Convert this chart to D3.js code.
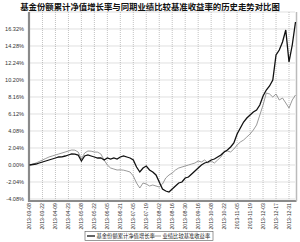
<!DOCTYPE html>
<html>
<head>
<meta charset="utf-8">
<script src="https://cdn.jsdelivr.net/npm/d3@7"></script>
<style>
  body { margin: 0; background: #fff; }
  text { font-family: "Liberation Sans", Arial, sans-serif; }
</style>
</head>
<body>
<div id="chart"></div>
<script>
// x axis tick labels (one every 4 points)
const dateLabels = [
  "2013-03-08", "2013-03-22", "2013-04-09", "2013-04-23", "2013-05-08",
  "2013-05-22", "2013-06-05", "2013-06-21", "2013-07-05", "2013-07-19",
  "2013-08-02", "2013-08-16", "2013-08-30", "2013-09-16", "2013-10-08",
  "2013-10-22", "2013-11-05", "2013-11-19", "2013-12-03", "2013-12-17",
  "2013-12-31"
];

const yTicks = [-4.08, -2.04, 0, 2.04, 4.08, 6.12, 8.16, 10.20, 12.24, 14.28, 16.32];

// 基金份额累计净值增长率 (%)
const fundValues = [
  0.00, 0.06, 0.12, 0.24, 0.36, 0.48, 0.60, 0.72, 0.84, 0.96,
  0.98, 1.08, 1.20, 1.32, 1.30, 1.20, 0.48, 1.08, 1.20, 1.08,
  0.96, 0.84, 0.86, 0.60, 0.84, 0.72, 0.84, 0.72, 0.96, 1.08,
  0.96, 0.84, 0.60, -0.24, -0.84, -0.36, -0.12, -0.60, -0.84, -1.20,
  -2.04, -2.88, -3.12, -3.24, -2.88, -2.52, -2.16, -2.04, -1.56, -1.44,
  -1.08, -0.72, -0.36, 0.00, 0.24, 0.36, 0.60, 0.72, 0.96, 1.20,
  1.56, 1.80, 2.16, 2.64, 3.72, 4.44, 5.16, 5.64, 6.00, 6.36,
  6.60, 7.20, 8.28, 9.00, 9.48, 10.20, 13.20, 13.80, 14.76, 16.20,
  12.36, 14.40, 17.16
];

// 业绩比较基准收益率 (%)
const benchValues = [
  0.00, 0.12, 0.24, 0.42, 0.60, 0.78, 0.96, 1.08, 1.20, 1.32,
  1.44, 1.56, 1.68, 1.80, 1.78, 1.56, 0.72, 1.44, 1.68, 1.66,
  1.56, 1.54, 1.32, 0.60, 0.00, -0.36, -0.48, -0.60, -0.58, -0.62,
  -0.72, -0.84, -1.32, -2.16, -2.76, -2.16, -2.28, -2.52, -2.40, -2.52,
  -2.64, -2.28, -1.56, -1.20, -0.96, -0.60, -0.36, -0.24, -0.12, 0.00,
  0.12, 0.24, 0.48, 0.36, 0.60, 0.24, 0.48, 0.24, 0.60, 0.96,
  1.56, 1.68, 1.56, 1.92, 2.40, 2.76, 3.00, 3.36, 3.72, 4.20,
  4.80, 6.00, 7.20, 8.64, 8.52, 8.16, 8.52, 7.80, 8.04, 7.44,
  6.84, 7.80, 8.40
];

const seriesNames = ["基金份额累计净值增长率", "业绩比较基准收益率"];

const width = 300;
const height = 242;

const svg = d3.select("#chart")
  .append("svg")
  .attr("width", width)
  .attr("height", height);

const x = d3.scaleLinear()
  .domain([0, fundValues.length - 1])
  .range([29.5, 295.5]);

const y = d3.scaleLinear()
  .domain([-4.32, 18.36])
  .range([201, 12]);

// title
svg.append("text")
  .attr("x", 150)
  .attr("y", 10)
  .attr("text-anchor", "middle")
  .style("font-family", "'Noto Sans CJK SC', sans-serif")
  .style("font-size", "8.4px")
  .style("font-weight", 700)
  .style("fill", "#111")
  .text("基金份额累计净值增长率与同期业绩比较基准收益率的历史走势对比图");

// horizontal grid (plus top edge)
svg.selectAll(".hgrid")
  .data(yTicks.concat([18.36]))
  .enter().append("line")
  .attr("class", "hgrid")
  .attr("x1", x.range()[0])
  .attr("x2", x.range()[1])
  .attr("y1", d => y(d))
  .attr("y2", d => y(d))
  .attr("stroke", "#999")
  .attr("stroke-width", 0.6)
  .attr("stroke-dasharray", "1,1");

// vertical grid at each date label
const tickIdx = dateLabels.map((d, i) => i * 4);

svg.selectAll(".vgrid")
  .data(tickIdx)
  .enter().append("line")
  .attr("class", "vgrid")
  .attr("x1", d => x(d))
  .attr("x2", d => x(d))
  .attr("y1", y(18.36))
  .attr("y2", y.range()[0])
  .attr("stroke", "#999")
  .attr("stroke-width", 0.6)
  .attr("stroke-dasharray", "1,1");

// y labels
svg.selectAll(".ylab")
  .data(yTicks)
  .enter().append("text")
  .attr("class", "ylab")
  .attr("x", 24)
  .attr("y", d => y(d) + 2)
  .attr("text-anchor", "end")
  .style("font-size", "5.6px")
  .style("fill", "#333")
  .text(d => d.toFixed(2) + "%");

// x labels, rotated
svg.selectAll(".xlab")
  .data(dateLabels)
  .enter().append("text")
  .attr("class", "xlab")
  .attr("transform", (d, i) => `translate(${x(i * 4) + 1.8}, 203) rotate(-90)`)
  .attr("text-anchor", "end")
  .style("font-size", "5.2px")
  .style("fill", "#333")
  .text(d => d);

// axes frame
svg.append("line")
  .attr("x1", x.range()[0] - 0.5).attr("x2", x.range()[0] - 0.5)
  .attr("y1", y(18.36)).attr("y2", y.range()[0] + 1)
  .attr("stroke", "#8a8a8a").attr("stroke-width", 2.2);
svg.append("line")
  .attr("x1", x.range()[0] - 1).attr("x2", x.range()[1] + 1)
  .attr("y1", y.range()[0]).attr("y2", y.range()[0])
  .attr("stroke", "#8a8a8a").attr("stroke-width", 1.8);
svg.append("line")
  .attr("x1", x.range()[1] + 1).attr("x2", x.range()[1] + 1)
  .attr("y1", y(18.36)).attr("y2", y.range()[0])
  .attr("stroke", "#bbb").attr("stroke-width", 1.5);

const line = d3.line()
  .x((d, i) => x(i))
  .y(d => y(d));

svg.append("path")
  .datum(benchValues)
  .attr("d", line)
  .attr("fill", "none")
  .attr("stroke", "#808080")
  .attr("stroke-width", 0.8);

svg.append("path")
  .datum(fundValues)
  .attr("d", line)
  .attr("fill", "none")
  .attr("stroke", "#111")
  .attr("stroke-width", 1.3);

// legend
const legend = svg.append("g")
  .attr("transform", "translate(85, 231.5)");

legend.append("rect")
  .attr("width", 128)
  .attr("height", 9)
  .attr("fill", "#fff")
  .attr("stroke", "#555")
  .attr("stroke-width", 0.6);

const legendItems = [
  { name: seriesNames[0], color: "#111", w: 1.3, x: 2 },
  { name: seriesNames[1], color: "#808080", w: 0.8, x: 68 }
];

legendItems.forEach(it => {
  legend.append("line")
    .attr("x1", it.x).attr("x2", it.x + 8)
    .attr("y1", 4.5).attr("y2", 4.5)
    .attr("stroke", it.color)
    .attr("stroke-width", it.w);
  legend.append("text")
    .attr("x", it.x + 9.5)
    .attr("y", 6.4)
    .style("font-family", "'Noto Sans CJK SC', sans-serif")
    .style("font-size", "5.3px")
    .style("fill", "#222")
    .text(it.name);
});
</script>
</body>
</html>
